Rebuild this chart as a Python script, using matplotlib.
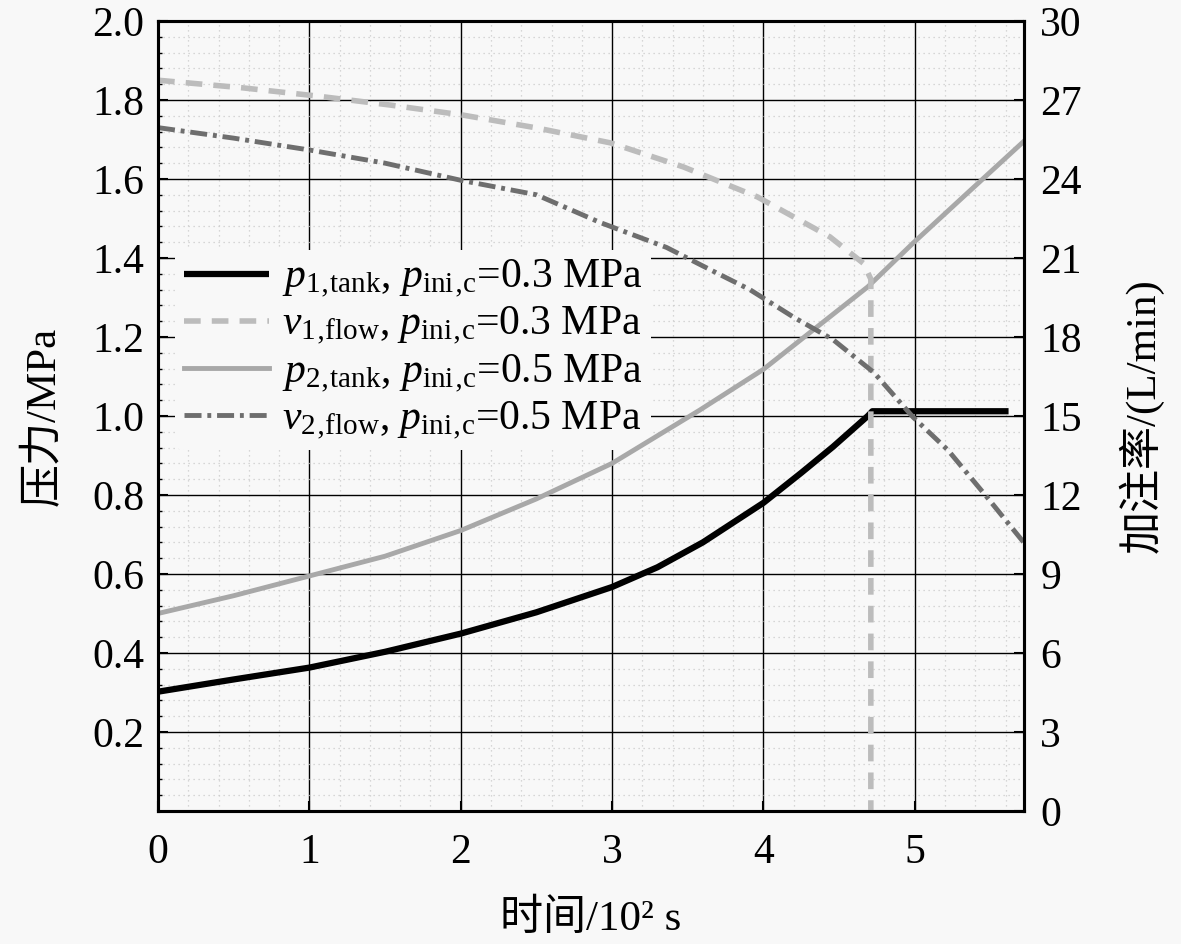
import matplotlib
matplotlib.use('Agg')
import matplotlib.pyplot as plt
from matplotlib.ticker import MultipleLocator, FormatStrFormatter

# time in 10^2 s
t_p1 = [0, 0.5, 1.0, 1.5, 2.0, 2.5, 3.0, 3.3, 3.6, 4.0, 4.25, 4.46, 4.69, 4.72, 5.62]
p1_tank = [0.302, 0.333, 0.363, 0.403, 0.449, 0.503, 0.567, 0.617, 0.680, 0.78, 0.856, 0.922, 1.0, 1.012, 1.012]

t_p2 = [0, 0.5, 1.0, 1.5, 2.0, 2.5, 3.0, 3.58, 4.0, 4.33, 4.69, 4.99, 5.35, 5.72]
p2_tank = [0.50, 0.545, 0.595, 0.645, 0.71, 0.79, 0.88, 1.015, 1.118, 1.218, 1.327, 1.438, 1.565, 1.695]

t_v1 = [0, 0.56, 1.05, 1.53, 2.01, 2.5, 2.99, 3.47, 3.96, 4.44, 4.66, 4.71, 4.71]
v1_flow = [27.75, 27.46, 27.15, 26.81, 26.43, 25.94, 25.37, 24.46, 23.32, 21.8, 20.8, 20.2, 0]

t_v2 = [0, 0.5, 1.0, 1.5, 2.0, 2.5, 2.92, 3.36, 3.65, 3.91, 4.2, 4.46, 4.73, 4.99, 5.22, 5.48, 5.72]
v2_flow = [25.95, 25.55, 25.1, 24.6, 23.95, 23.4, 22.35, 21.4, 20.55, 19.8, 18.75, 17.9, 16.65, 14.95, 13.7, 11.9, 10.2]

# U+201A looks like a comma but gets no extra mathtext spacing
labels = [r'$p_{\mathrm{1‚tank}}$, $p_{\mathrm{ini‚c}}$=0.3 MPa',
          r'$v_{\mathrm{1‚flow}}$, $p_{\mathrm{ini‚c}}$=0.3 MPa',
          r'$p_{\mathrm{2‚tank}}$, $p_{\mathrm{ini‚c}}$=0.5 MPa',
          r'$v_{\mathrm{2‚flow}}$, $p_{\mathrm{ini‚c}}$=0.5 MPa']

plt.rcParams['font.family'] = ['Liberation Serif', 'Noto Sans CJK SC']
plt.rcParams['mathtext.fontset'] = 'custom'
plt.rcParams['mathtext.rm'] = 'Liberation Serif'
plt.rcParams['mathtext.it'] = 'Liberation Serif:italic'
plt.rcParams['font.size'] = 30

bg = '#f8f8f8'
fig = plt.figure(figsize=(11.81, 9.44), dpi=100, facecolor=bg)
ax = fig.add_axes([0.1338, 0.1409, 0.733, 0.8369], facecolor=bg)
ax2 = ax.twinx()

l1, = ax.plot(t_p1, p1_tank, color='black', lw=4.5, solid_capstyle='butt')
l3, = ax.plot(t_p2, p2_tank, color='#a8a8a8', lw=3.5)
l2, = ax2.plot(t_v1, v1_flow, color='#bcbcbc', lw=4, dashes=(3, 2))
l4, = ax2.plot(t_v2, v2_flow, color='#6e6e6e', lw=3.5, dashes=(3.5, 1.2, 0.8, 1.2))

ax.set_xlim(0, 5.72)
ax.set_ylim(0, 2.0)
ax2.set_ylim(0, 30)

ax.set_xticks([0, 1, 2, 3, 4, 5])
ax.set_yticks([0.2, 0.4, 0.6, 0.8, 1.0, 1.2, 1.4, 1.6, 1.8, 2.0])
ax.yaxis.set_major_formatter(FormatStrFormatter('%.1f'))
ax.xaxis.set_minor_locator(MultipleLocator(0.2))
ax.yaxis.set_minor_locator(MultipleLocator(0.04))
ax2.set_yticks(range(0, 31, 3))

ax.grid(which='major', color='black', lw=1.0)
ax.grid(which='minor', color='#cccccc', lw=0.9, ls=(0, (1, 3)))
ax.set_axisbelow(True)

for a in (ax, ax2):
    for s in a.spines.values():
        s.set_linewidth(2.2)
ax.tick_params(which='major', direction='in', length=7, width=1.5, pad=10)
ax.tick_params(axis='x', which='major', pad=16)
ax.tick_params(which='minor', direction='in', length=3, width=1.0)
ax.tick_params(axis='x', which='minor', length=0)
ax2.tick_params(which='major', direction='in', length=7, width=1.5, pad=12)

ax.set_xlabel('时间/10² s', fontsize=31, labelpad=20)
ax.set_ylabel('压力/MPa', fontsize=31, labelpad=20)
ax2.set_ylabel('加注率/(L/min)', fontsize=31, labelpad=26)

# legend sits on the left axes, above the grid but under the curves
leg = ax.legend([l1, l2, l3, l4], labels, loc='upper left', bbox_to_anchor=(0.02, 0.71),
                frameon=True, facecolor=bg, edgecolor='none', framealpha=1,
                fontsize=30, handlelength=2.05, handletextpad=0.3, labelspacing=0.12,
                borderpad=0.2, borderaxespad=0)
leg.set_zorder(1)

fig.savefig('out.png', dpi=100, facecolor=bg)
